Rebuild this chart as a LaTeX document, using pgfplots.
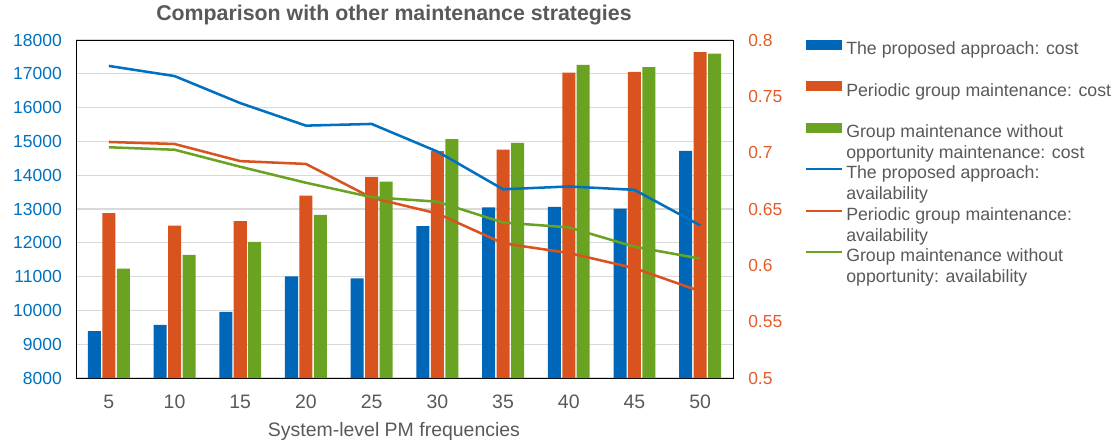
\documentclass[border=0pt]{standalone}
\usepackage{fontspec}
\setmainfont{Liberation Sans}
\usepackage{pgfplots}
\usepackage{pgfplotstable}
\pgfplotsset{compat=1.18}

\definecolor{cblue}{RGB}{0,102,184}
\definecolor{lblue}{RGB}{0,112,192}
\definecolor{corange}{RGB}{217,83,30}
\definecolor{cgreen}{RGB}{106,163,33}
\definecolor{tgray}{RGB}{89,89,89}
\definecolor{gridgray}{RGB}{217,217,217}
\definecolor{rorange}{RGB}{227,92,40}

% two-line legend cell, swatch sits on the first line
\newcommand{\leg}[2]{\parbox[t]{200pt}{\fontsize{13.3}{15.5}\selectfont\raggedright\strut #1\\#2\strut}}

% x: 0..9 -> PM frequency 5..50
\pgfplotstableread{
x  pc     gc     oc     pa      ga      oa
0  9390   12880  11235  0.777   0.7095  0.7048
1  9570   12510  11640  0.768   0.7077  0.7026
2  9955   12645  12025  0.744   0.6925  0.6875
3  11010  13395  12825  0.724   0.690   0.6733
4  10950  13950  13810  0.7255  0.660   0.6605
5  12490  14715  15070  0.701   0.646   0.6565
6  13050  14755  14955  0.6675  0.6195  0.638
7  13060  17035  17265  0.670   0.611   0.6337
8  13010  17060  17200  0.667   0.5975  0.6165
9  14720  17640  17595  0.6355  0.577   0.606
}\data

\begin{document}
\begin{tikzpicture}
\path[use as bounding box] (-57pt,-46.5pt) rectangle (777.75pt,283.5pt);

\begin{axis}[
    scale only axis,
    width=492.75pt, height=253.5pt,
    xmin=-0.5, xmax=9.5,
    ymin=8000, ymax=18000,
    xtick={0,...,9},
    xticklabels={5,10,15,20,25,30,35,40,45,50},
    ytick={8000,9000,...,18000},
    scaled y ticks=false,
    major tick length=0pt,
    ymajorgrids=true,
    grid style={gridgray, line width=0.9pt},
    axis line style={black, line width=0.6pt},
    /pgf/number format/assume math mode=true,
    /pgf/number format/1000 sep={},
    yticklabel style={font=\fontsize{13.1}{15}\selectfont, text=lblue,
        anchor=east, inner sep=0pt, xshift=-10.5pt},
    xticklabel style={font=\fontsize{14.6}{17}\selectfont, text=tgray,
        anchor=base, inner sep=0pt, yshift=-22.7pt},
    xlabel={System-level PM frequencies},
    xlabel style={font=\fontsize{14.6}{17}\selectfont, text=tgray,
        at={(axis description cs:0.484,0)}, anchor=base, inner sep=0pt, yshift=-43.5pt},
    title={Comparison with other maintenance strategies},
    title style={font=\fontsize{16}{19}\selectfont\bfseries, text=tgray,
        at={(axis description cs:0.484,1)}, anchor=base, inner sep=0pt, yshift=8.8pt},
    legend cell align=left,
    legend style={at={(axis description cs:1.1096,1.0184)}, anchor=north west,
        draw=none, fill=none, inner sep=0pt, row sep=0pt, column sep=2.25pt,
        text=tgray, nodes={inner sep=0pt}},
]
\addplot[ybar, bar width=0.198, bar shift=-0.22, fill=cblue, draw=none,
    legend image code/.code={\path[draw=none, fill=none] (0pt,-20.2pt) rectangle (27pt,10.85pt);
        \fill[cblue] (0pt,-1.1pt) rectangle (27pt,6.4pt);}]
    table[x=x, y=pc] {\data};
\addlegendentry{\leg{The proposed approach: cost}{}}
\addplot[ybar, bar width=0.198, bar shift=0, fill=corange, draw=none,
    legend image code/.code={\path[draw=none, fill=none] (0pt,-20.2pt) rectangle (27pt,10.85pt);
        \fill[corange] (0pt,-1.1pt) rectangle (27pt,6.4pt);}]
    table[x=x, y=gc] {\data};
\addlegendentry{\leg{Periodic group maintenance: cost}{}}
\addplot[ybar, bar width=0.198, bar shift=0.22, fill=cgreen, draw=none,
    legend image code/.code={\path[draw=none, fill=none] (0pt,-20.2pt) rectangle (27pt,10.85pt);
        \fill[cgreen] (0pt,-1.1pt) rectangle (27pt,6.4pt);}]
    table[x=x, y=oc] {\data};
\addlegendentry{\leg{Group maintenance without}{opportunity maintenance: cost}}
\addlegendimage{legend image code/.code={\path[draw=none, fill=none] (0pt,-20.2pt) rectangle (27pt,10.85pt);
        \draw[lblue, line width=1.5pt] (0pt,2.6pt) -- (27pt,2.6pt);}}
\addlegendentry{\leg{The proposed approach:}{availability}}
\addlegendimage{legend image code/.code={\path[draw=none, fill=none] (0pt,-20.2pt) rectangle (27pt,10.85pt);
        \draw[corange, line width=1.5pt] (0pt,2.6pt) -- (27pt,2.6pt);}}
\addlegendentry{\leg{Periodic group maintenance:}{availability}}
\addlegendimage{legend image code/.code={\path[draw=none, fill=none] (0pt,-20.2pt) rectangle (27pt,10.85pt);
        \draw[cgreen, line width=1.5pt] (0pt,2.6pt) -- (27pt,2.6pt);}}
\addlegendentry{\leg{Group maintenance without}{opportunity: availability}}
\end{axis}

\begin{axis}[
    scale only axis,
    width=492.75pt, height=253.5pt,
    xmin=-0.5, xmax=9.5,
    ymin=0.5, ymax=0.8,
    hide x axis,
    axis y line*=right,
    y axis line style={black, line width=0.6pt},
    ytick={0.5,0.55,0.6,0.65,0.7,0.75,0.8},
    scaled y ticks=false,
    major tick length=0pt,
    /pgf/number format/assume math mode=true,
    yticklabel style={font=\fontsize{13.1}{15}\selectfont, text=rorange,
        anchor=west, inner sep=0pt, xshift=11.25pt},
]
\addplot[lblue, line width=1.9pt, line join=round, mark=none] table[x=x, y=pa] {\data};
\addplot[corange, line width=1.9pt, line join=round, mark=none] table[x=x, y=ga] {\data};
\addplot[cgreen, line width=1.9pt, line join=round, mark=none] table[x=x, y=oa] {\data};
\end{axis}
\end{tikzpicture}
\end{document}
